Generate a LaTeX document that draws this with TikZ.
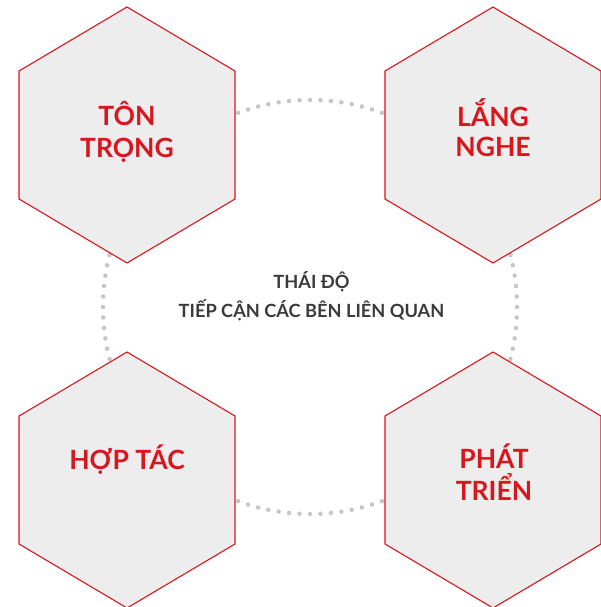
\documentclass[tikz,border=0pt]{standalone}
\usepackage{fontspec}
\setmainfont{Lato}
\definecolor{hexred}{HTML}{D7161D}
\definecolor{hexfill}{HTML}{EDEDED}
\definecolor{dotgray}{HTML}{C6C6C6}
\definecolor{txtgray}{HTML}{3A3A3A}
\begin{document}
\begin{tikzpicture}[x=1pt,y=-1pt,
  hexbox/.style={draw=hexred,fill=hexfill,line width=1.1pt,line join=miter},
  hexlabel/.style={anchor=base,inner sep=0pt,text=hexred,font=\fontsize{26.5}{31}\selectfont\bfseries},
  midlabel/.style={anchor=base,inner sep=0pt,text=txtgray,font=\fontsize{18.2}{22}\selectfont\bfseries},
  ring/.style={draw=dotgray,line width=4.5pt,line cap=round,dash pattern=on 0pt off 10.49pt}]
\useasboundingbox (0,0) rectangle (601,607);
\coordinate (c) at (310,307);
\draw[ring] (c) circle[radius=207];
\foreach \cx/\cy in {127/135,493/135,127/480,493/480}{
  \draw[hexbox] (\cx,\cy-128) -- (\cx+108,\cy-64) -- (\cx+108,\cy+64) -- (\cx,\cy+128)
    -- (\cx-108,\cy+64) -- (\cx-108,\cy-64) -- cycle;
}
\node[hexlabel] (t1a) at (127,125.7) {TÔN};
\node[hexlabel] (t1b) at (127,157.2) {TRỌNG};
\node[hexlabel] (t2a) at (493,126) {LẮNG};
\node[hexlabel] (t2b) at (493,156.7) {NGHE};
\node[hexlabel] (t3a) at (127,469) {HỢP TÁC};
\node[hexlabel] (t4a) at (494,468) {PHÁT};
\node[hexlabel] (t4b) at (494,500) {TRIỂN};
\node[midlabel] (m1) at (311.5,288.7) {THÁI ĐỘ};
\node[midlabel] (m2) at (311.5,317.3) {TIẾP CẬN CÁC BÊN LIÊN QUAN};
\end{tikzpicture}
\end{document}
